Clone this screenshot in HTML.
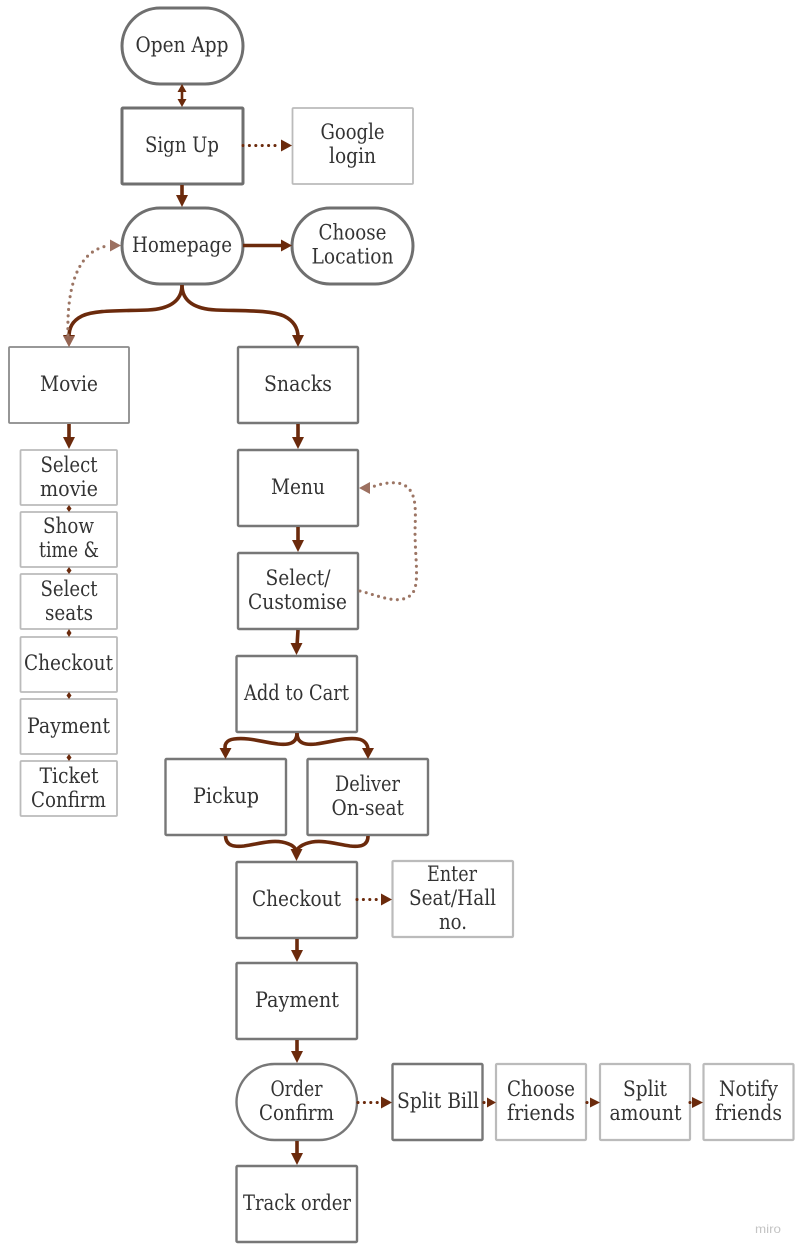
<!DOCTYPE html>
<html><head><meta charset="utf-8"><style>
html,body{margin:0;padding:0;background:#fff}
svg{display:block}
text{font-family:"DejaVu Serif","Liberation Serif",serif;font-size:21px;fill:#333}
.d{fill:#fff;stroke:#6f6f6f;stroke-width:3}
.m{fill:#fff;stroke:#777;stroke-width:2.4}
.l{fill:#fff;stroke:#bbb;stroke-width:1.8}
.c{fill:none;stroke:#6b2a0c;stroke-width:3.6}
.t{fill:none;stroke:#6b2a0c;stroke-width:2.6}
.o{fill:none;stroke:#6b2a0c;stroke-width:3.1;stroke-linecap:round;stroke-dasharray:0 6.4}
.f{fill:none;stroke:#9c7564;stroke-width:3.1;stroke-linecap:round;stroke-dasharray:0 6.4}
.a{fill:#6b2a0c}.b{fill:#9c7060}
</style></head><body>
<svg width="798" height="1251" viewBox="0 0 798 1251" xmlns="http://www.w3.org/2000/svg">
<rect width="798" height="1251" fill="#fff"/>
<!-- nodes -->
<rect class="d" x="122" y="8" width="121" height="76" rx="38"/>
<rect class="d" x="122" y="108" width="121" height="76" rx="1"/>
<rect class="l" x="292.500" y="108" width="120.500" height="76" rx="1"/>
<rect class="d" x="122" y="208" width="121" height="76" rx="38"/>
<rect class="d" x="292" y="208" width="121" height="76" rx="38"/>
<rect x="9" y="347" width="120" height="76" rx="1" fill="#fff" stroke="#8a8a8a" stroke-width="1.8"/>
<rect class="m" x="238" y="347" width="120" height="76" rx="1"/>
<rect class="l" x="20.500" y="450" width="96.500" height="55" rx="1"/>
<rect class="l" x="20.500" y="512" width="96.500" height="55" rx="1"/>
<rect class="l" x="20.500" y="574" width="96.500" height="55" rx="1"/>
<rect class="l" x="20.500" y="637" width="96.500" height="55" rx="1"/>
<rect class="l" x="20.500" y="699" width="96.500" height="55" rx="1"/>
<rect class="l" x="20.500" y="761" width="96.500" height="55" rx="1"/>
<rect class="m" x="238" y="450" width="120" height="76" rx="1"/>
<rect class="m" x="238" y="553" width="120" height="76" rx="1"/>
<rect class="m" x="236.500" y="656" width="120.500" height="76" rx="1"/>
<rect class="m" x="165.500" y="759" width="120.500" height="76" rx="1"/>
<rect class="m" x="307.500" y="759" width="120.500" height="76" rx="1"/>
<rect class="m" x="236.500" y="862" width="120.500" height="76" rx="1"/>
<rect class="l" x="392.500" y="861" width="120.500" height="76" rx="1" style="stroke-width:2.2"/>
<rect class="m" x="236.500" y="963" width="120.500" height="76" rx="1"/>
<rect class="m" x="236.500" y="1064" width="120.500" height="76" rx="38"/>
<rect class="m" x="392.500" y="1064" width="90" height="76" rx="1"/>
<rect class="l" x="496" y="1064" width="90" height="76" rx="1" style="stroke-width:2.2"/>
<rect class="l" x="600" y="1064" width="90" height="76" rx="1" style="stroke-width:2.2"/>
<rect class="l" x="703.500" y="1064" width="90" height="76" rx="1" style="stroke-width:2.2"/>
<rect class="m" x="236.500" y="1166" width="120.500" height="76" rx="1"/>
<!-- connectors -->
<path class="t" d="M182 88V104"/><polygon class="a" points="182,84 186.500,92 177.500,92"/><polygon class="a" points="182,107 186.500,99 177.500,99"/>
<path class="c" d="M182 185V198"/><polygon class="a" points="182,207 176,195 188,195"/>
<path class="o" d="M243 145.500H281"/><polygon class="a" points="292,145.500 281,139.500 281,151.500"/>
<path class="c" d="M243 245.500H282"/><polygon class="a" points="292,245.500 281,239.500 281,251.500"/>
<path class="c" d="M182 285C182 302 168 309 148 310C118 311 95 310 82 316C72 321 69 328 69 337"/>
<polygon class="a" points="69,347 63,335 75,335"/>
<path class="c" d="M182 285C182 302 196 309 216 310C246 311 270 310 284 316C294 321 298 328 298 337"/>
<polygon class="a" points="298,347 292,335 304,335"/>
<path class="f" d="M68 335C67 300 72 250 110 245.500"/>
<polygon class="b" points="121,245.500 110,239.500 110,251.500"/><polygon class="b" points="69,347 63,336 75,336" opacity=".85"/>
<path class="c" d="M69 424V440"/><polygon class="a" points="69,449 63,437 75,437"/>
<path class="c" d="M298 424V440"/><polygon class="a" points="298,449 292,437 304,437"/>
<path class="c" d="M298 527V543"/><polygon class="a" points="298,552 292,540 304,540"/>
<path class="c" d="M298 630L297 646"/><polygon class="a" points="296.500,655 290.500,643 302.500,643"/>
<path class="f" d="M360 591C380 596 400 606 412 594C420 584 415 560 415 530C416 505 416 490 402 484C392 481 380 484 372 487"/>
<polygon class="b" points="359,488 370,482 370,494"/>
<path class="c" d="M297 733C297 744 288 745 278 744C262 742 248 737 234 739C226 740 224 745 225.500 750"/>
<polygon class="a" points="225.500,759 219.500,748 231.500,748"/>
<path class="c" d="M297 733C297 744 306 745 316 744C332 742 346 737 358 739C365 740 368 745 368 750"/>
<polygon class="a" points="368,759 362,748 374,748"/>
<path class="c" d="M225.500 836C226 846 234 847 244 846C258 844 270 840 282 842C292 844 296 848 296.500 852"/>
<path class="c" d="M368 836C368 846 360 847 350 846C336 844 324 840 312 842C302 844 297 848 296.500 852"/>
<polygon class="a" points="296.500,861 290.500,849 302.500,849"/>
<path class="o" d="M357 899.500H381"/><polygon class="a" points="392,899.500 381,893.500 381,905.500"/>
<path class="c" d="M297 939V953"/><polygon class="a" points="297,962 291,950 303,950"/>
<path class="c" d="M297 1040V1054"/><polygon class="a" points="297,1063 291,1051 303,1051"/>
<path class="c" d="M297 1141V1156"/><polygon class="a" points="297,1165 291,1153 303,1153"/>
<path class="o" d="M358 1102.500H381"/><polygon class="a" points="392,1102.500 381,1096.500 381,1108.500"/>
<path class="o" d="M484 1102.500H486"/><polygon class="a" points="496,1102.500 487,1097.500 487,1107.500"/>
<path class="o" d="M587 1102.500H589"/><polygon class="a" points="600,1102.500 590,1097.500 590,1107.500"/>
<path class="o" d="M690 1102.500H692"/><polygon class="a" points="703,1102.500 692,1097 692,1108"/>
<g class="a">
<polygon points="69,505 71.500,508.500 69,512 66.500,508.500"/><polygon points="69,567 71.500,570.500 69,574 66.500,570.500"/><polygon points="69,629 71.500,633 69,637 66.500,633"/><polygon points="69,692 71.500,695.500 69,699 66.500,695.500"/><polygon points="69,754 71.500,757.500 69,761 66.500,757.500"/>
</g>
<!-- labels -->
<text x="135.500" y="52" textLength="93" lengthAdjust="spacingAndGlyphs">Open App</text>
<text x="145" y="152" textLength="74" lengthAdjust="spacingAndGlyphs">Sign Up</text>
<text x="320.500" y="139" textLength="64" lengthAdjust="spacingAndGlyphs">Google</text>
<text x="329" y="163" textLength="47" lengthAdjust="spacingAndGlyphs">login</text>
<text x="132" y="252" textLength="100" lengthAdjust="spacingAndGlyphs">Homepage</text>
<text x="318.500" y="239.500" textLength="68" lengthAdjust="spacingAndGlyphs">Choose</text>
<text x="311.500" y="263.500" textLength="82" lengthAdjust="spacingAndGlyphs">Location</text>
<text x="40" y="391" textLength="58" lengthAdjust="spacingAndGlyphs">Movie</text>
<text x="264" y="391" textLength="68" lengthAdjust="spacingAndGlyphs">Snacks</text>
<text x="40.500" y="472" textLength="57" lengthAdjust="spacingAndGlyphs">Select</text>
<text x="40" y="496" textLength="58" lengthAdjust="spacingAndGlyphs">movie</text>
<text x="43" y="533" textLength="51" lengthAdjust="spacingAndGlyphs">Show</text>
<text x="39" y="557" textLength="60" lengthAdjust="spacingAndGlyphs">time &amp;</text>
<text x="40.500" y="596" textLength="57" lengthAdjust="spacingAndGlyphs">Select</text>
<text x="45" y="620" textLength="48" lengthAdjust="spacingAndGlyphs">seats</text>
<text x="24" y="670" textLength="89" lengthAdjust="spacingAndGlyphs">Checkout</text>
<text x="27" y="733" textLength="83" lengthAdjust="spacingAndGlyphs">Payment</text>
<text x="39.500" y="783" textLength="59" lengthAdjust="spacingAndGlyphs">Ticket</text>
<text x="31" y="807" textLength="75" lengthAdjust="spacingAndGlyphs">Confirm</text>
<text x="271" y="494" textLength="54" lengthAdjust="spacingAndGlyphs">Menu</text>
<text x="265.500" y="585" textLength="65" lengthAdjust="spacingAndGlyphs">Select/</text>
<text x="248" y="609" textLength="99" lengthAdjust="spacingAndGlyphs">Customise</text>
<text x="244" y="700" textLength="105" lengthAdjust="spacingAndGlyphs">Add to Cart</text>
<text x="193" y="803" textLength="66" lengthAdjust="spacingAndGlyphs">Pickup</text>
<text x="335" y="791" textLength="65" lengthAdjust="spacingAndGlyphs">Deliver</text>
<text x="331.500" y="815" textLength="72.500" lengthAdjust="spacingAndGlyphs">On-seat</text>
<text x="252" y="906" textLength="89" lengthAdjust="spacingAndGlyphs">Checkout</text>
<text x="427" y="881" textLength="50" lengthAdjust="spacingAndGlyphs">Enter</text>
<text x="409" y="905" textLength="87" lengthAdjust="spacingAndGlyphs">Seat/Hall</text>
<text x="439" y="929" textLength="28" lengthAdjust="spacingAndGlyphs">no.</text>
<text x="255" y="1007" textLength="84" lengthAdjust="spacingAndGlyphs">Payment</text>
<text x="270.500" y="1096" textLength="52" lengthAdjust="spacingAndGlyphs">Order</text>
<text x="259" y="1120" textLength="75" lengthAdjust="spacingAndGlyphs">Confirm</text>
<text x="397" y="1108" textLength="82" lengthAdjust="spacingAndGlyphs">Split Bill</text>
<text x="507" y="1096" textLength="68" lengthAdjust="spacingAndGlyphs">Choose</text>
<text x="507" y="1120" textLength="68" lengthAdjust="spacingAndGlyphs">friends</text>
<text x="623" y="1096" textLength="44" lengthAdjust="spacingAndGlyphs">Split</text>
<text x="609.500" y="1120" textLength="72" lengthAdjust="spacingAndGlyphs">amount</text>
<text x="719" y="1096" textLength="59" lengthAdjust="spacingAndGlyphs">Notify</text>
<text x="715" y="1120" textLength="67" lengthAdjust="spacingAndGlyphs">friends</text>
<text x="243" y="1210" textLength="108" lengthAdjust="spacingAndGlyphs">Track order</text>
<text x="755" y="1233" textLength="26" lengthAdjust="spacingAndGlyphs" style="font-family:'Liberation Sans',sans-serif;font-size:12px;fill:#c4c4c4">miro</text>
</svg>
</body></html>
